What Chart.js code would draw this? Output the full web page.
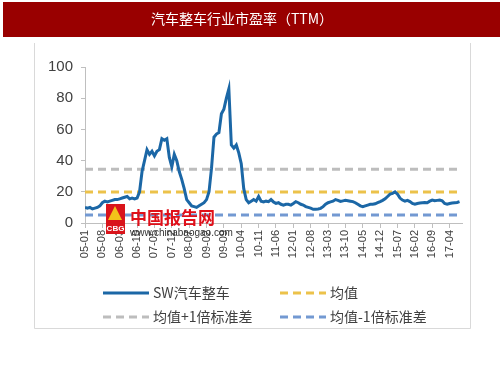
<!DOCTYPE html>
<html>
<head>
<meta charset="utf-8">
<script src="https://cdn.jsdelivr.net/npm/chart.js@4.4.0/dist/chart.umd.min.js"></script>
<style>
  html, body { margin: 0; padding: 0; background: #ffffff; }
  #wrap { width: 503px; height: 378px; position: relative; }
</style>
</head>
<body>
<div id="wrap"><canvas id="c" width="503" height="378"></canvas></div>
<script>
// ---- data ----
const TITLE = '汽车整车行业市盈率（TTM）';
const START_YEAR = 2005, START_MONTH = 1;
// monthly PE (TTM) from 2005-01
const peValues = [
  10, 9.5, 10, 9, 9.5, 10, 11, 13, 14, 13.5,
  14, 14.5, 15, 15, 15.5, 16, 16.5, 17, 15.5, 16,
  15.5, 16, 20, 33, 40, 47, 44, 46, 43, 46,
  47, 54, 53, 54, 42, 36, 44, 40, 33, 28,
  22, 15, 13, 11, 10.5, 10, 11, 12, 13, 15,
  20, 35, 55, 57, 58, 70, 73, 80, 86, 50,
  48, 50, 45, 38, 22, 15, 13, 14, 15, 14,
  17, 14, 13.5, 14, 13.7, 15, 13.5, 12.6, 13, 12,
  11.5, 12, 12, 11.5, 12.5, 13.7, 13, 12, 11.5, 10.5,
  10, 9.5, 8.8, 8.8, 9, 9.4, 10.5, 12, 13, 13.5,
  14, 15, 14.5, 13.8, 14.2, 14.5, 14.3, 14, 13.7, 13,
  12, 11, 10.5, 11, 11.5, 12, 12, 12.3, 13, 13.7,
  14.5, 15.5, 17, 18.5, 19, 20, 18.5, 16, 14.7, 14,
  14.5, 13.7, 12.5, 12, 12.5, 12.8, 13, 13.2, 13, 14,
  14.7, 14.3, 14.5, 14.7, 14.2, 12.5, 12, 12.5, 12.8, 13,
  13.2, 13.7
];
const meanValue = 19.8;
const plusStdValue = 34.4;
const minusStdValue = 5.2;
const seriesNames = ['SW汽车整车', '均值', '均值+1倍标准差', '均值-1倍标准差'];
const yTicks = [0, 20, 40, 60, 80, 100];
const TICK_EVERY = 7;

// month index -> "YY-MM"
function monthLabel(i) {
  const total = (START_MONTH - 1) + i;
  const y = START_YEAR + Math.floor(total / 12);
  const m = total % 12 + 1;
  return String(y % 100).padStart(2, '0') + '-' + String(m).padStart(2, '0');
}

const lastIdx = peValues.length - 1;
const pePoints = peValues.map((v, i) => ({ x: i, y: v }));
const flat = v => [{ x: 0, y: v }, { x: lastIdx, y: v }];

const COLORS = {
  pe: '#1b67a6',
  mean: '#ecc24a',
  plus: '#bdbdbd',
  minus: '#7399d2'
};

const deco = {
  id: 'deco',
  beforeDraw(chart) {
    const ctx = chart.ctx;
    ctx.save();
    ctx.fillStyle = '#ffffff';
    ctx.fillRect(0, 0, chart.width, chart.height);
    // title bar
    ctx.fillStyle = '#990000';
    ctx.fillRect(3, 2, 497, 35);
    ctx.fillStyle = '#ffffff';
    ctx.font = '14px "Noto Sans CJK SC", "Liberation Sans", sans-serif';
    ctx.textAlign = 'center';
    ctx.textBaseline = 'middle';
    ctx.fillText(TITLE, 242, 19);
    // frame
    ctx.strokeStyle = '#d9d9d9';
    ctx.lineWidth = 1;
    ctx.beginPath();
    ctx.moveTo(34.5, 43);
    ctx.lineTo(34.5, 328.5);
    ctx.lineTo(470.5, 328.5);
    ctx.lineTo(470.5, 43);
    ctx.stroke();
    ctx.restore();
  },
  afterDraw(chart) {
    const ctx = chart.ctx;
    ctx.save();
    // watermark
    ctx.fillStyle = '#d9141b';
    ctx.fillRect(106, 204, 19, 30);
    ctx.fillStyle = '#f3c21a';
    ctx.beginPath();
    ctx.moveTo(115, 206); ctx.lineTo(122, 220); ctx.lineTo(108, 220); ctx.closePath();
    ctx.fill();
    ctx.fillStyle = '#ffffff';
    ctx.font = 'bold 8px "Liberation Sans", sans-serif';
    ctx.textAlign = 'center';
    ctx.textBaseline = 'alphabetic';
    ctx.fillText('CBG', 115.5, 231);
    ctx.fillStyle = '#e0101a';
    ctx.font = 'bold 17px "Noto Sans CJK SC", sans-serif';
    ctx.textAlign = 'left';
    ctx.fillText('中国报告网', 130, 224);
    ctx.fillStyle = '#333333';
    ctx.font = '10px "Liberation Sans", sans-serif';
    ctx.fillText('www.chinabaogao.com', 130, 236);

    // legend
    const ds = chart.data.datasets;
    const items = [
      { i: 0, x: 103, y: 293 },
      { i: 1, x: 280, y: 293 },
      { i: 2, x: 103, y: 317 },
      { i: 3, x: 280, y: 317 }
    ];
    ctx.font = '14px "Noto Sans CJK SC", "Liberation Sans", sans-serif';
    ctx.textBaseline = 'middle';
    items.forEach(it => {
      const d = ds[it.i];
      ctx.strokeStyle = d.borderColor;
      ctx.lineWidth = 3;
      ctx.setLineDash(d.borderDash || []);
      ctx.beginPath();
      ctx.moveTo(it.x, it.y);
      ctx.lineTo(it.x + 46, it.y);
      ctx.stroke();
      ctx.setLineDash([]);
      ctx.fillStyle = '#404040';
      ctx.fillText(d.label, it.x + 50, it.y);
    });
    ctx.restore();
  }
};

new Chart(document.getElementById('c'), {
  type: 'line',
  data: {
    datasets: [
      { label: seriesNames[0], data: pePoints, borderColor: COLORS.pe, borderWidth: 3, pointRadius: 0, tension: 0, order: 0 },
      { label: seriesNames[1], data: flat(meanValue), borderColor: COLORS.mean, borderWidth: 3, borderDash: [8, 5], pointRadius: 0, order: 1 },
      { label: seriesNames[2], data: flat(plusStdValue), borderColor: COLORS.plus, borderWidth: 3, borderDash: [8, 5], pointRadius: 0, order: 1 },
      { label: seriesNames[3], data: flat(minusStdValue), borderColor: COLORS.minus, borderWidth: 3, borderDash: [8, 5], pointRadius: 0, order: 1 }
    ]
  },
  options: {
    responsive: false,
    animation: false,
    devicePixelRatio: 1,
    parsing: true,
    layout: { padding: { left: 30, right: 41, top: 67, bottom: 115 } },
    plugins: { legend: { display: false }, title: { display: false }, tooltip: { enabled: false } },
    scales: {
      x: {
        type: 'linear',
        min: 0,
        max: lastIdx + 1,
        afterFit(s) { s.height = 40; },
        grid: { display: true, drawOnChartArea: false, drawTicks: true, tickLength: 5, color: '#bfbfbf' },
        border: { display: true, color: '#bfbfbf' },
        ticks: {
          stepSize: TICK_EVERY,
          includeBounds: false,
          autoSkip: false,
          minRotation: 90,
          maxRotation: 90,
          padding: 2,
          color: '#404040',
          font: { family: '"Liberation Sans", Arial, sans-serif', size: 11 },
          callback: v => (v % TICK_EVERY === 0 ? monthLabel(v) : null)
        }
      },
      y: {
        min: 0,
        max: 100,
        afterFit(s) { s.width = 55; },
        afterBuildTicks(s) { s.ticks = yTicks.map(v => ({ value: v })); },
        grid: { display: true, drawOnChartArea: false, drawTicks: true, tickLength: 4, color: '#bfbfbf' },
        border: { display: true, color: '#bfbfbf' },
        ticks: {
          padding: 8,
          color: '#404040',
          font: { family: '"Liberation Sans", Arial, sans-serif', size: 15 }
        }
      }
    }
  },
  plugins: [deco]
});
</script>
</body>
</html>
